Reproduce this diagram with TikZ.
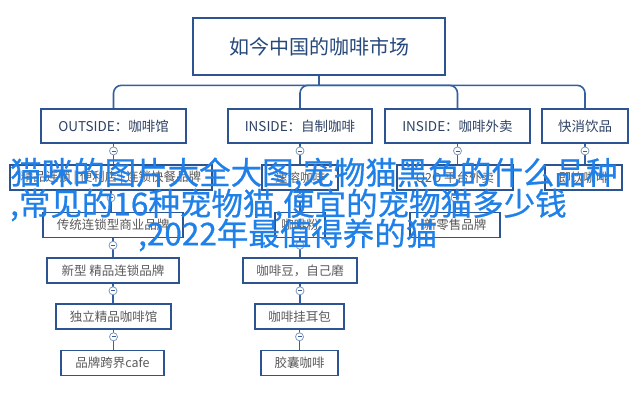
\documentclass[tikz,border=0pt]{standalone}
\usepackage{fontspec}
\setmainfont{Noto Sans CJK SC}
\newfontfamily\overfont[FakeBold=0.7]{Noto Sans CJK SC}
\definecolor{boxline}{RGB}{44,84,146}
\definecolor{linkc}{RGB}{52,96,160}
\definecolor{titletxt}{RGB}{38,72,125}
\definecolor{headtxt}{RGB}{45,65,100}
\definecolor{leaftxt}{RGB}{90,90,90}
\definecolor{overlayc}{RGB}{30,128,232}
\tikzset{
 topbox/.style={draw=boxline, line width=2.6pt, fill=white, minimum width=252pt, minimum height=57pt, inner sep=0pt, font=\fontsize{20}{24}\selectfont, text=titletxt},
 headbox/.style={draw=boxline, line width=1.8pt, fill=white, minimum height=34pt, inner sep=0pt, font=\fontsize{13.5}{16}\selectfont, text=headtxt},
 leafbox/.style={draw=boxline, line width=1.6pt, fill=white, minimum height=25pt, inner sep=0pt, font=\fontsize{12.5}{15}\selectfont, text=leaftxt},
 link/.style={draw=linkc, line width=1.6pt},
 toggle/.style={circle, draw=boxline!60, line width=0.8pt, fill=white, minimum size=8pt, inner sep=0pt},
 overtext/.style={text=overlayc, font=\overfont\fontsize{31.5}{34}\selectfont, anchor=west, inner sep=0pt},
}
\newcommand{\treelink}[3]{%
 \draw[link] (#1.south) -- (#1.south |- #2.north);
 \node[toggle] (#3) at ([yshift=-7pt]#1.south) {};
 \draw[linkc, line width=0.7pt] ([xshift=-2pt]#3.center) -- ([xshift=2pt]#3.center);
}
\begin{document}
\begin{tikzpicture}[x=1pt,y=-1pt]
\fill[white] (0,0) rectangle (640,400);
\useasboundingbox (0,0) rectangle (640,400);
% top
\node[topbox] (top) at (319,46.5) {如今中国的咖啡市场};
% row 1
\node[headbox, minimum width=145pt] (h1) at (113.5,126) {OUTSIDE：咖啡馆};
\node[headbox, minimum width=144pt] (h2) at (300,126) {INSIDE：自制咖啡};
\node[headbox, minimum width=145pt] (h3) at (457.5,126) {INSIDE：咖啡外卖};
\node[headbox, minimum width=86pt] (h4) at (585,126) {快消饮品};
% row 2
\node[leafbox, minimum width=202pt] (a2) at (111,177.5) {精品连锁 | 便利店 | 连锁快餐品牌};
\node[leafbox, minimum width=76pt] (b2) at (300,177.5) {速溶咖啡};
\node[leafbox, minimum width=116pt] (c2) at (455,177.5) {O2O 平台外卖};
\node[leafbox, minimum width=77pt] (d2) at (583.5,177.5) {即饮咖啡};
% row 3
\node[leafbox, minimum width=140pt] (a3) at (113,225) {传统连锁型商业品牌};
\node[leafbox, minimum width=50pt] (b3) at (300,225) {咖啡粉};
\node[leafbox, minimum width=90pt] (c3) at (455,225) {新零售品牌};
% row 4
\node[leafbox, minimum width=132pt] (a4) at (113,270.5) {新型 精品连锁品牌};
\node[leafbox, minimum width=114pt] (b4) at (300,270.5) {咖啡豆，自己磨};
% row 5
\node[leafbox, minimum width=115pt] (a5) at (113.5,316.5) {独立精品咖啡馆};
\node[leafbox, minimum width=89pt] (b5) at (299.5,316.5) {咖啡挂耳包};
% row 6
\node[leafbox, minimum width=103pt] (a6) at (112.5,363) {品牌跨界cafe};
\node[leafbox, minimum width=77pt] (b6) at (299.5,363) {胶囊咖啡};
% bus
\path (top.south) ++(0,9) coordinate (bus);
\draw[link] (top.south) -- (bus);
\draw[link, rounded corners=8pt] (bus) -| (h1.north);
\draw[link, rounded corners=8pt] (bus) -| (h2.north);
\draw[link, rounded corners=8pt] (bus) -| (h3.north);
\draw[link, rounded corners=8pt] (bus) -| (h4.north);
% column links
\treelink{h1}{a2}{t1}
\treelink{a2}{a3}{t2}
\treelink{a3}{a4}{t3}
\treelink{a4}{a5}{t4}
\treelink{a5}{a6}{t5}
\treelink{h2}{b2}{u1}
\treelink{b2}{b3}{u2}
\treelink{b3}{b4}{u3}
\treelink{b4}{b5}{u4}
\treelink{b5}{b6}{u5}
\treelink{h3}{c2}{v1}
\treelink{c2}{c3}{v2}
\treelink{h4}{d2}{w1}
% overlay text
\node[overtext] (o1) at (10,174) {猫咪的图片大全大图,宠物猫黑色的什么品种};
\node[overtext] (o2) at (10,205) {,常见的16种宠物猫,便宜的宠物猫多少钱};
\node[overtext] (o3) at (138,235) {,2022年最值得养的猫};
\end{tikzpicture}
\end{document}
